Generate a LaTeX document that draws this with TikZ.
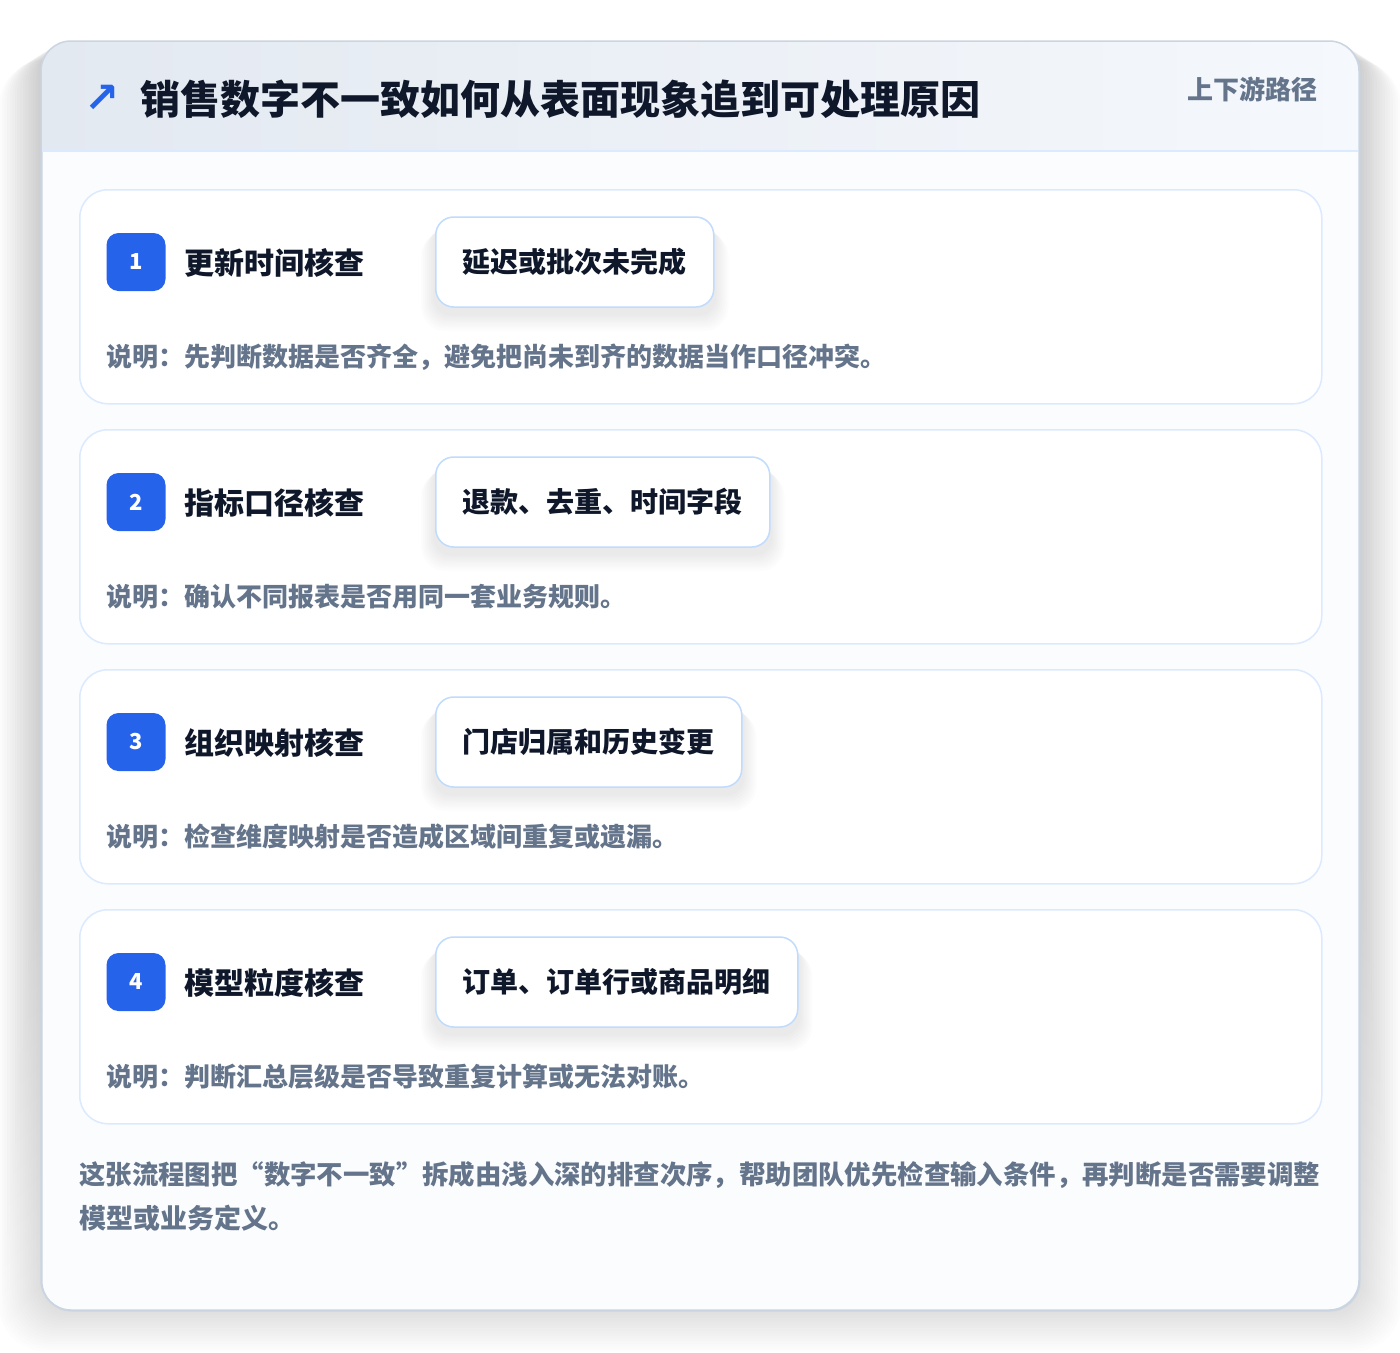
\documentclass[tikz,border=0pt]{standalone}
\usepackage{fontspec}
\usepackage{graphicx}
\setmainfont{Noto Sans CJK SC}
\newfontfamily\symfont{DejaVu Sans}
\definecolor{outline}{HTML}{CBD5E1}
\definecolor{cardline}{HTML}{DBEAFE}
\definecolor{tagline}{HTML}{BFDBFE}
\definecolor{accent}{HTML}{2563EB}
\definecolor{ink}{HTML}{0F172A}
\definecolor{muted}{HTML}{64748B}
\definecolor{headL}{HTML}{E3E9F1}
\definecolor{headR}{HTML}{F5F8FC}
\definecolor{bodybg}{HTML}{FBFCFE}
\definecolor{shade}{HTML}{1E293B}
\pgfdeclarelayer{cardlayer}
\pgfdeclarelayer{shadowlayer}
\pgfsetlayers{cardlayer,shadowlayer,main}
\tikzset{
  card/.style={draw=cardline, line width=1.5pt, fill=white, rounded corners=28pt,
    minimum width=1242pt, minimum height=214pt, anchor=north west, inner sep=0},
  badge/.style={fill=accent, rounded corners=12pt, minimum width=59pt, minimum height=58pt,
    text=white, font=\bfseries\fontsize{22}{22}\selectfont, inner sep=0},
  steptitle/.style={anchor=west, text=ink, font=\bfseries\fontsize{30}{30}\selectfont, inner sep=0},
  tagbox/.style={draw=tagline, line width=1.5pt, fill=white, rounded corners=18pt,
    minimum height=90pt, inner xsep=27pt, inner ysep=0pt, text=ink,
    font=\bfseries\fontsize{28}{28}\selectfont, anchor=west},
  desc/.style={anchor=west, text=muted, font=\bfseries\fontsize{26}{26}\selectfont, inner sep=0},
  foot/.style={anchor=west, text=muted, font=\bfseries\fontsize{27}{27}\selectfont, inner sep=0},
}
\begin{document}
\begin{tikzpicture}[x=1pt,y=-1pt]
\useasboundingbox (0,0) rectangle (1400,1352);
\begin{pgfonlayer}{cardlayer}
\fill[white] (0,0) rectangle (1400,1352);
% outer shadow
\foreach \k in {1,...,16}{
  \fill[shade, opacity=0.006, rounded corners=30pt+\k pt]
    (41-\k*2.6, 41+\k*1.2) rectangle (1359+\k*2.6, 1310+\k*2.6);
}
% outer card
\node[draw=outline, line width=1.5pt, fill=bodybg, rounded corners=30pt,
  minimum width=1318pt, minimum height=1269pt, anchor=north west, inner sep=0] (frame) at (41,41) {};
\begin{scope}
  \clip[rounded corners=30pt] (41,41) rectangle (1359,1310);
  \shade[left color=headL, right color=headR] (41,41) rectangle (1359,151);
\end{scope}
\draw[outline, line width=1.5pt, rounded corners=30pt] (41,41) rectangle (1359,1310);
\draw[cardline, line width=1.5pt] (42,151) -- (1358,151);
\end{pgfonlayer}
% header texts
\node[text=accent, font=\symfont\bfseries\fontsize{42}{42}\selectfont, inner sep=0] (icon) at (102,99) {↗};
\node[anchor=west, text=ink, font=\bfseries\fontsize{40}{40}\selectfont, inner sep=0] (title) at (140,99)
  {销售数字不一致如何从表面现象追到可处理原因};
\node[anchor=east, text=muted, font=\bfseries\fontsize{26}{26}\selectfont, inner sep=0] (tagline) at (1318,89)
  {上下游路径};
% cards
\foreach \i/\t/\g/\d in {
  1/更新时间核查/延迟或批次未完成/说明：先判断数据是否齐全，避免把尚未到齐的数据当作口径冲突。,
  2/指标口径核查/退款、去重、时间字段/说明：确认不同报表是否用同一套业务规则。,
  3/组织映射核查/门店归属和历史变更/说明：检查维度映射是否造成区域间重复或遗漏。,
  4/模型粒度核查/订单、订单行或商品明细/说明：判断汇总层级是否导致重复计算或无法对账。}{
  \pgfmathsetmacro\y{189+240*(\i-1)}
  \begin{pgfonlayer}{cardlayer}
    \node[card] (card\i) at (79,\y) {};
  \end{pgfonlayer}
  \node[badge] (badge\i) at (136,\y+73) {\i};
  \node[steptitle] (title\i) at (184,\y+74) {\t};
  \node[tagbox] (tag\i) at (435,\y+73) {\g};
  \begin{pgfonlayer}{shadowlayer}
    \foreach \k in {1,...,7}{
      \fill[shade, opacity=0.009, rounded corners=18pt+\k pt]
        ([xshift=-\k*2pt, yshift=-\k*1.5pt-5pt]tag\i.north west) rectangle
        ([xshift=\k*2pt, yshift=-\k*2.5pt-6pt]tag\i.south east);
    }
  \end{pgfonlayer}
  \node[desc] (desc\i) at (106,\y+168) {\d};
}
% footer
\node[foot] (footer1) at (79,1175)
  {\resizebox{1241pt}{!}{这张流程图把“数字不一致”拆成由浅入深的排查次序，帮助团队优先检查输入条件，再判断是否需要调整}};
\node[foot] (footer2) at (79,1218) {模型或业务定义。};
\end{tikzpicture}
\end{document}
